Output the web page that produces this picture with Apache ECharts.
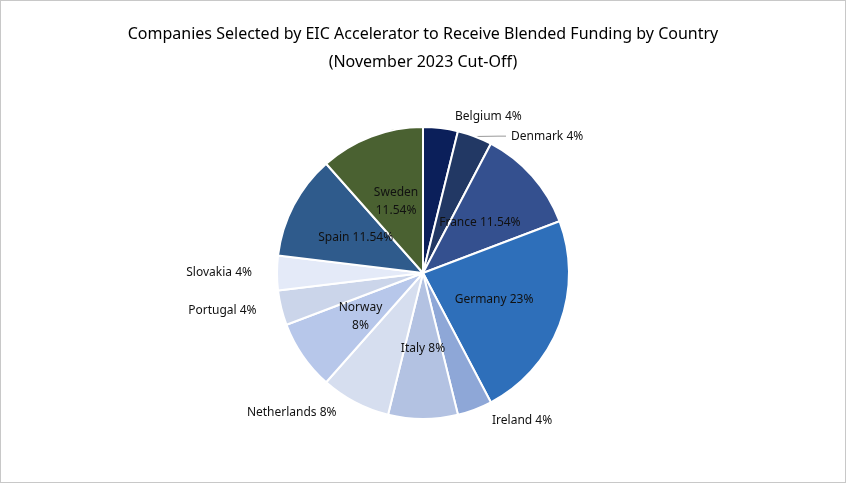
<!DOCTYPE html>
<html><head><meta charset="utf-8">
<script src="https://cdn.jsdelivr.net/npm/echarts@6/dist/echarts.min.js"></script>
<style>html,body{margin:0;padding:0;background:#fff}#c{width:844px;height:481px;border:1px solid #c8c8c8}</style>
</head><body><div id="c"></div>
<script>
var countries = ['Belgium','Denmark','France','Germany','Ireland','Italy','Netherlands','Norway','Portugal','Slovakia','Spain','Sweden'];
var companies = [1,1,3,6,1,2,2,2,1,1,3,3];
var labelTexts = ['Belgium 4%','Denmark 4%','France 11.54%','Germany 23%','Ireland 4%','Italy 8%','Netherlands 8%','Norway\n8%','Portugal 4%','Slovakia 4%','Spain 11.54%','Sweden\n11.54%'];
var colors = ['#0b1f5a','#223864','#34508f','#2e6fba','#8ea7d7','#b3c2e2','#d6deef','#b7c7ea','#cbd5ea','#e4eaf8','#2f5b8c','#4a6131'];
var outside = {Belgium:1,Denmark:1,Ireland:1,Netherlands:1,Portugal:1,Slovakia:1};

var chart = echarts.init(document.getElementById('c'));
var data = [];
for (var i = 0; i < countries.length; i++) {
    var o = !!outside[countries[i]];
    data.push({
        name: countries[i], value: companies[i],
        itemStyle: {color: colors[i]},
        label: {position: o ? 'outside' : 'inner', formatter: labelTexts[i], color: '#111'},
        labelLine: {show: countries[i] == 'Denmark', length: 12, length2: 8, lineStyle: {color: '#999'}}
    });
}
chart.setOption({
    title: {
        text: 'Companies Selected by EIC Accelerator to Receive Blended Funding by Country\n(November 2023 Cut-Off)',
        left: 'center', top: 14,
        textStyle: {fontFamily: 'Noto Sans', fontSize: 16, fontWeight: 'normal', color: '#000', lineHeight: 28}
    },
    series: [{
        type: 'pie', center: [422, 272], radius: [0, 146],
        startAngle: 90, clockwise: true,
        data: data,
        itemStyle: {borderColor: '#fff', borderWidth: 2},
        label: {fontFamily: 'Noto Sans', fontSize: 12, lineHeight: 18, align: 'center'},
        labelLine: {showAbove: true}
    }]
});
</script></body></html>
